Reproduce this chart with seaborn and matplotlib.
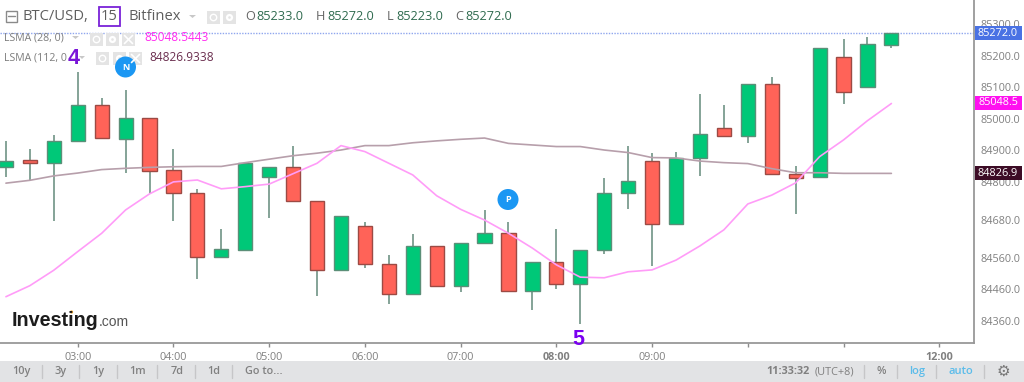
import pandas as pd
import matplotlib
matplotlib.use('Agg')
import matplotlib.pyplot as plt
import matplotlib.patches as mpatches
import seaborn as sns

times = ['02:15', '02:30', '02:45', '03:00', '03:15', '03:30', '03:45', '04:00',
         '04:15', '04:30', '04:45', '05:00', '05:15', '05:30', '05:45', '06:00',
         '06:15', '06:30', '06:45', '07:00', '07:15', '07:30', '07:45', '08:00',
         '08:15', '08:30', '08:45', '09:00', '09:15', '09:30', '09:45', '10:00',
         '10:15', '10:30', '10:45', '11:00', '11:15', '11:30']
opens = [84848, 84868, 84861, 84929, 85043, 84937, 85003, 84837, 84766, 84563,
         84584, 84816, 84846, 84738, 84521, 84661, 84540, 84444, 84598, 84471,
         84606, 84637, 84455, 84545, 84477, 84585, 84766, 84867, 84667, 84877,
         84972, 84946, 85110, 84824, 84815, 85196, 85100, 85233]
highs = [84930, 84905, 84949, 85149, 85067, 85092, 85003, 84905, 84777, 84651,
         84863, 84846, 84915, 84738, 84693, 84672, 84568, 84634, 84598, 84607,
         84712, 84672, 84545, 84651, 84585, 84811, 84915, 84893, 84896, 85080,
         85043, 85110, 85132, 84850, 85223, 85252, 85258, 85272]
lows = [84817, 84804, 84676, 84929, 84940, 84827, 84761, 84676, 84491, 84560,
        84584, 84685, 84738, 84439, 84517, 84526, 84412, 84444, 84471, 84450,
        84606, 84455, 84393, 84460, 84350, 84572, 84713, 84534, 84667, 84820,
        84946, 84924, 84824, 84697, 84815, 85048, 85100, 85223]
closes = [84867, 84861, 84929, 85043, 84940, 85003, 84835, 84765, 84563, 84588,
          84861, 84846, 84738, 84521, 84693, 84539, 84444, 84598, 84471, 84607,
          84638, 84455, 84545, 84477, 84585, 84766, 84803, 84667, 84877, 84951,
          84946, 85110, 84824, 84813, 85223, 85084, 85236, 85272]
lsma_28 = [84436, 84471, 84520, 84579, 84637, 84711, 84762, 84800, 84806, 84778,
           84785, 84793, 84826, 84859, 84915, 84896, 84859, 84822, 84756, 84713,
           84679, 84637, 84590, 84537, 84498, 84496, 84515, 84521, 84552, 84597,
           84648, 84730, 84758, 84797, 84880, 84933, 84994, 85048.5]
lsma_112 = [84796, 84805, 84819, 84828, 84839, 84843, 84846, 84848, 84849, 84849,
            84861, 84872, 84883, 84891, 84901, 84915, 84915, 84924, 84930, 84935,
            84939, 84922, 84917, 84912, 84912, 84901, 84893, 84877, 84876, 84866,
            84861, 84858, 84842, 84829, 84829, 84827, 84827, 84826.9]

price_ticks = [85300, 85200, 85100, 85000, 84900, 84800, 84680, 84560, 84460, 84360]
hour_ticks = [3, 4, 5, 6, 7, 8, 9, 10, 11, 12]
hour_labels = ['03:00', '04:00', '05:00', '06:00', '07:00', '08:00', '09:00', '', '', '12:00']
last_price = 85272.0

sns.set_theme(style='white')
plt.rcParams['font.family'] = ['Open Sans', 'DejaVu Sans']

df = pd.DataFrame({'time': times, 'open': opens, 'high': highs, 'low': lows,
                   'close': closes, 'lsma_28': lsma_28, 'lsma_112': lsma_112})
df['hour'] = pd.to_timedelta(df['time'] + ':00') / pd.Timedelta(hours=1)
df['up'] = df['close'] >= df['open']

W, H = 1024, 382
fig = plt.figure(figsize=(W / 100, H / 100), dpi=100, facecolor='white')
ax = fig.add_axes([0, (H - 342.7) / H, 974 / W, 342.7 / H])

ax.vlines(df['hour'], df['low'], df['high'], color='#6f9485', lw=1.2, zorder=1)
for up, face, edge in [(True, '#00c878', '#5b8f78'), (False, '#ff6358', '#9c4a44')]:
    part = df[df['up'] == up]
    ax.bar(part['hour'], (part['close'] - part['open']).abs(),
           bottom=part[['open', 'close']].min(axis=1), width=0.148,
           color=face, edgecolor=edge, linewidth=1.0, zorder=2)

sns.lineplot(data=df, x='hour', y='lsma_112', color='#b79fab', lw=1.2, ax=ax, zorder=3, errorbar=None)
sns.lineplot(data=df, x='hour', y='lsma_28', color='#ff9cf8', lw=1.2, ax=ax, zorder=4, errorbar=None)
ax.axhline(last_price, color='#8fa6ee', lw=1, ls=(0, (1, 1)), zorder=1)

ax.set_xlim(2.188, 12.363)
ax.set_ylim(84290.2, 85376.6)
ax.set_xlabel('')
ax.set_ylabel('')
ax.yaxis.tick_right()
ax.set_yticks(price_ticks)
ax.set_yticklabels([f'{p:.1f}' for p in price_ticks])
ax.set_xticks(hour_ticks)
ax.set_xticklabels(hour_labels)
ax.tick_params(axis='both', length=3, width=1, color='#8c8c8c', labelcolor='#808080',
               labelsize=7.8, pad=2, bottom=True, right=True)
ax.tick_params(axis='x', pad=4)
for label in ax.get_xticklabels():
    if label.get_text() in ('08:00', '12:00'):
        label.set_fontweight('bold')
sns.despine(ax=ax, top=True, left=True, right=False, bottom=False)
for side in ('right', 'bottom'):
    ax.spines[side].set_color('#989898')
    ax.spines[side].set_linewidth(1.3)

# everything around the plot goes on a pixel overlay
ov = fig.add_axes([0, 0, 1, 1], zorder=5)
ov.set_xlim(0, W)
ov.set_ylim(H, 0)
ov.axis('off')
ov.patch.set_alpha(0)


def box(x, y, w, h, **kw):
    ov.add_patch(mpatches.Rectangle((x, y), w, h, **kw))


def icons(xs, y, size=13):
    for i, x in enumerate(xs):
        box(x, y, size, size, fc='#e4e4e4', ec='none')
        c = (x + size / 2, y + size / 2)
        if i == 0:
            ov.add_patch(mpatches.Circle(c, 3.2, fc='none', ec='white', lw=1))
        elif i == 1:
            ov.add_patch(mpatches.Circle(c, 3.6, fc='white', ec='none'))
            ov.add_patch(mpatches.Circle(c, 1.3, fc='#e4e4e4', ec='none'))
        else:
            ov.plot([c[0] - 4, c[0] + 4], [c[1] - 4, c[1] + 4], color='white', lw=1.2)
            ov.plot([c[0] - 4, c[0] + 4], [c[1] + 4, c[1] - 4], color='white', lw=1.2)


# header
box(5.5, 10.5, 11, 11, fc='none', ec='#8a8a8a', lw=1)
ov.plot([7.5, 14.5], [16, 16], color='#8a8a8a', lw=1)
ov.text(23, 17, 'BTC/USD,', fontsize=10.6, color='#5e5e5e', va='center')
ov.text(101, 17, '15', fontsize=10.6, color='#5e5e5e', va='center')
box(99, 6.5, 21, 19, fc='none', ec='#7a22d8', lw=1.3)
ov.text(128, 17, 'Bitfinex', fontsize=10.6, color='#5e5e5e', va='center')
ov.add_patch(mpatches.Polygon([(189, 15), (196, 15), (192.5, 18)], fc='#c8c8c8', ec='none'))
icons([207, 223], 11)
for lab, lx, val, vx in [('O', 245, 85233.0, 256), ('H', 316, 85272.0, 327),
                         ('L', 387, 85223.0, 396), ('C', 455, 85272.0, 465)]:
    ov.text(lx, 17, lab, fontsize=9.2, color='#666666', va='center')
    ov.text(vx, 17, f'{val:.1f}', fontsize=9.2, color='#2f6b4f', va='center')

# indicator legend
ov.text(4, 37.5, 'LSMA (28, 0)', fontsize=7.6, color='#7c7c7c', va='center')
ov.add_patch(mpatches.Polygon([(72, 36), (79, 36), (75.5, 39)], fc='#c8c8c8', ec='none'))
icons([90, 106, 122], 33)
ov.text(144, 37.5, '85048.5443', fontsize=8.6, color='#ff2cf0', va='center')
ov.text(4, 57.5, 'LSMA (112, 0', fontsize=7.6, color='#7c7c7c', va='center')
ov.add_patch(mpatches.Polygon([(79, 56), (85, 56), (82, 59)], fc='#c8c8c8', ec='none'))
icons([96, 113, 129], 52)
ov.text(149.5, 57.5, '84826.9338', fontsize=8.6, color='#6b2f4f', va='center')

# annotations
ov.text(74, 58, '4', fontsize=15.5, fontweight='bold', color='#7a16d8', ha='center', va='center',
        family=['Liberation Sans'])
ov.text(578, 339.5, '5', fontsize=15.5, fontweight='bold', color='#7a00f0', ha='center', va='center',
        family=['Liberation Sans'])
for ch, cx, cy in [('N', 125.5, 67), ('P', 508, 199.5)]:
    ov.add_patch(mpatches.Circle((cx, cy), 10.5, fc='#1b97f3', ec='none'))
    ov.text(cx, cy, ch, fontsize=6.5, fontweight='bold', color='white', ha='center', va='center')

# logo
ov.text(12, 321, 'Investing', fontsize=14.2, fontweight='bold', color='#1c1c1c', va='center',
        family=['Liberation Sans'])
ov.text(99, 322.5, '.com', fontsize=10, color='#555555', va='center', family=['Liberation Sans'])
ov.add_patch(mpatches.Circle((71.5, 312), 1.6, fc='#f5a623', ec='none'))

# price tags
for val, col, y, fg in [(85272.0, '#4a72e4', 33, 'white'), (85048.5, '#ff10f0', 102.7, 'white'),
                        (84826.9, '#3d0c26', 173.3, 'white')]:
    box(974.5, y - 7, 47.5, 14, fc=col, ec='none')
    ov.text(998, y, f'{val:.1f}', fontsize=7.8, color=fg, ha='center', va='center')

# bottom toolbar
box(0, 361, W, 21, fc='#e2e3e5', ec='none')
for t, cx in [('10y', 21), ('3y', 61), ('1y', 98.7), ('1m', 137.7), ('7d', 176.7), ('1d', 214)]:
    ov.text(cx, 371.7, t, fontsize=7.8, fontweight='semibold', color='#808080', ha='center', va='center')
ov.text(245, 371.7, 'Go to...', fontsize=7.8, fontweight='semibold', color='#808080', va='center')
for sx in [42, 79, 117, 157, 195, 232, 864, 897, 936, 984]:
    ov.plot([sx, sx], [365, 378], color='#c6c6c8', lw=1)
ov.text(766, 371.7, '11:33:32', fontsize=7.8, fontweight='bold', color='#808080', va='center')
ov.text(815, 371.7, '(UTC+8)', fontsize=7.8, color='#808080', va='center')
ov.text(881, 371.7, '%', fontsize=7.8, fontweight='semibold', color='#808080', ha='center', va='center')
ov.text(917, 371.7, 'log', fontsize=8, fontweight='semibold', color='#5bbcea', ha='center', va='center')
ov.text(961, 371.7, 'auto', fontsize=8, fontweight='semibold', color='#5bbcea', ha='center', va='center')
ov.text(1003, 371.7, '⚙', fontsize=11, color='#777777', ha='center', va='center', family=['DejaVu Sans'])

fig.savefig('out.png', dpi=100)
plt.close(fig)
